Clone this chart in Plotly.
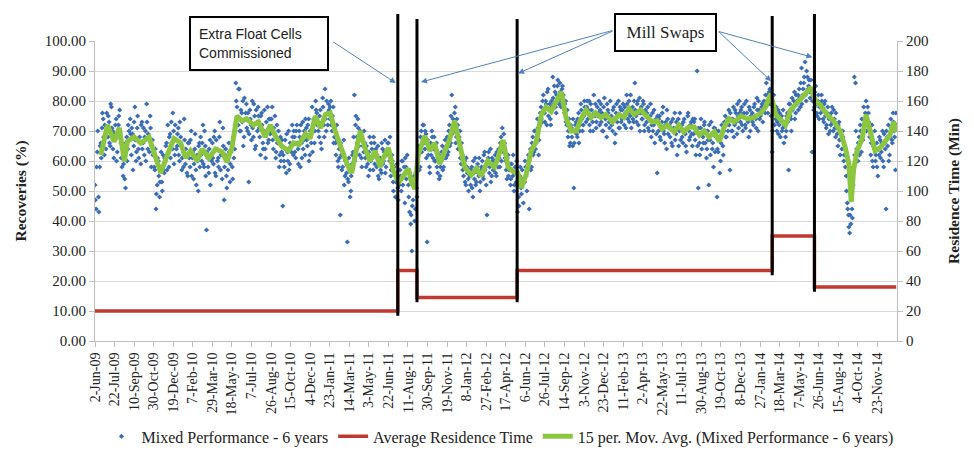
import pandas as pd
import plotly.graph_objects as go

# ---------------- data ----------------
start_date = "2009-06-02"

tick_labels = ["2-Jun-09", "22-Jul-09", "10-Sep-09", "30-Oct-09", "19-Dec-09", "7-Feb-10",
               "29-Mar-10", "18-May-10", "7-Jul-10", "26-Aug-10", "15-Oct-10", "4-Dec-10",
               "23-Jan-11", "14-Mar-11", "3-May-11", "22-Jun-11", "11-Aug-11", "30-Sep-11",
               "19-Nov-11", "8-Jan-12", "27-Feb-12", "17-Apr-12", "6-Jun-12", "26-Jul-12",
               "14-Sep-12", "3-Nov-12", "23-Dec-12", "11-Feb-13", "2-Apr-13", "22-May-13",
               "11-Jul-13", "30-Aug-13", "19-Oct-13", "8-Dec-13", "27-Jan-14", "18-Mar-14",
               "7-May-14", "26-Jun-14", "15-Aug-14", "4-Oct-14", "23-Nov-14"]

# Mixed performance recoveries (%), readings every 3 days from 2-Jun-09 (day 0, 3, 6, ...)
recovery_step_days = 3
recoveries_a = [
    52, 44, 63, 48, 58, 66, 71, 74, 62, 69,
    76, 68, 73, 65, 78, 70, 61, 67, 74, 63,
    72, 77, 66, 58, 55, 62, 51, 68, 64, 70,
    74, 62, 69, 65, 78, 60, 71, 64, 68, 59,
    73, 66, 62, 70, 79, 64, 68, 75, 58, 67,
    63, 57, 44, 52, 60, 48, 58, 53, 62, 56,
    60, 66, 72, 58, 69, 73, 64, 70, 62, 67,
    65, 71, 60, 68, 57, 63, 74, 59, 62, 55,
    66, 58, 70, 61, 54, 64, 57, 62, 50, 66,
    68, 60, 72, 58, 65, 37, 61, 56, 67, 62,
    66, 59, 70, 55, 64, 61, 68, 57, 63, 71,
    47, 62, 55, 60, 66, 53, 63, 58, 68, 64,
    86, 78, 72, 84, 70, 76, 80, 68, 74, 79,
    70, 53, 77, 72, 80, 68, 75, 65, 73, 78,
    71, 62, 76, 66, 70, 64, 73, 78, 67, 74,
    70, 78, 64, 69, 61, 72, 66, 58, 68, 63,
    45, 60, 67, 56, 63, 70, 59, 65, 72, 62,
    68, 61, 72, 64, 70, 58, 66, 73, 67, 62,
    71, 65, 74, 62, 69, 78, 72, 66, 80, 76,
    73, 68, 77, 64, 81, 72, 84, 70, 76, 79,
    74, 80, 70, 78, 68, 66, 72, 60, 64, 42,
    62, 58, 67, 55, 60, 33, 53, 57, 50, 59,
    63, 82, 72, 68, 74, 65, 70, 61, 67, 63,
    66, 58, 62, 55, 68, 60, 64, 57, 66, 62,
    58, 65, 54, 61, 56, 64, 60, 67, 58, 63,
    66, 60, 55, 62, 53, 58, 48, 56, 51, 54,
    57, 50, 60, 55, 46, 58, 62, 52, 43, 39,
    30, 47, 55, 44, 51, 60, 65, 58, 70, 66,
    72, 64, 69, 33, 62, 58, 66, 70, 61, 68,
    60, 66, 56, 62, 55, 60, 65, 58, 64, 61,
    68, 63, 72, 66, 82, 74, 70, 78, 68, 72,
    64, 70, 59, 62, 55, 60, 52, 58, 54, 57,
    52, 58, 48, 56, 61, 53, 59, 55, 50, 57,
    60, 54, 63, 58, 42, 61, 56, 64, 55, 60,
    57, 62, 55, 60, 64, 58, 68, 71, 63, 66,
    60, 54, 62, 57, 52, 59, 55, 50, 58, 53,
    43, 48, 55, 51, 57, 46, 53, 58, 50, 60,
    44, 64, 58, 68, 63, 70, 66, 74, 62, 72,
    78, 73, 82, 76, 80, 72, 84, 77, 74, 80,
    88, 79, 83, 76, 85, 81, 86, 78, 84, 82,
    76, 80, 72, 68, 74, 66, 71, 65, 51, 70,
    73, 68, 76, 70, 79, 74, 72, 80, 76, 78,
    74, 80, 70, 77, 73, 82, 75, 71, 78, 76,
    72, 79, 76, 70, 81, 74, 68, 77, 73, 80,
    75, 70, 78, 66, 76, 73, 80, 71, 77, 74,
    79, 72, 76, 82, 74, 80, 75, 71, 78, 73,
    86, 75, 79, 72, 81, 76, 74, 80, 70, 77,
    73, 78, 70, 75, 68, 76, 72, 66, 74, 56,
    70, 75, 67, 73, 78, 69, 72, 64, 74, 71,
    68, 73, 65, 71, 76, 69, 62, 74, 70, 67,
    72, 66, 74, 69, 63, 75, 70, 68, 73, 65,
    69, 74, 62, 90, 51, 66, 71, 64, 68, 72,
    66, 61, 70, 52, 67, 73, 64, 58, 71, 68,
    48, 63, 67, 60, 72, 65, 70, 75, 68, 74,
    77, 57, 74, 70, 78, 72, 76, 69, 75, 80,
    73, 78, 70, 76, 72, 80, 74, 68, 77, 75,
    76, 72, 79, 74, 81, 70, 77, 75, 78, 73,
    80, 76, 86, 82, 79, 84, 75, 63, 78, 72,
    74, 70, 77, 72, 68, 75, 71, 66, 73, 70,
    76, 57, 79, 74, 81, 78, 83, 76, 80, 82,
    84, 78, 91, 82, 86, 93, 80, 88, 85, 83,
    87, 63, 82, 78, 85, 76, 80, 74, 79, 82,
    77, 73, 80, 71, 76, 69, 75, 72, 78, 70,
    74, 68, 71, 65, 73, 62, 67, 70, 60, 64,
    55, 46, 42, 36, 39, 44, 52, 88, 86, 64,
    60, 68, 72, 63, 70, 78, 74, 80, 72, 76,
    68, 62, 72, 58, 64, 60, 66, 55, 62, 67,
    63, 70, 58, 66, 44, 68, 72, 62, 74, 67,
    76, 70, 57, 72,
]
# second set of readings, every 3 days starting one day later (day 1, 4, 7, ...)
recoveries_b = [
    47, 58, 70, 43, 65, 61, 76, 68, 72, 64,
    70, 75, 66, 79, 71, 64, 69, 72, 60, 68,
    75, 69, 61, 64, 59, 54, 66, 60, 72, 67,
    69, 71, 57, 73, 67, 63, 75, 61, 66, 72,
    64, 71, 68, 60, 73, 69, 63, 71, 65, 62,
    58, 64, 49, 61, 55, 53, 63, 50, 57, 61,
    65, 57, 63, 68, 61, 66, 76, 59, 72, 64,
    69, 62, 73, 65, 61, 58, 67, 64, 56, 66,
    61, 67, 55, 63, 59, 69, 52, 60, 65, 58,
    62, 66, 59, 70, 55, 63, 58, 64, 52, 60,
    61, 68, 56, 67, 60, 58, 73, 62, 54, 65,
    58, 64, 51, 57, 63, 59, 66, 54, 61, 72,
    80, 74, 84, 70, 77, 73, 65, 81, 76, 71,
    76, 69, 74, 67, 71, 79, 64, 77, 70, 75,
    68, 75, 72, 64, 77, 61, 70, 66, 74, 69,
    74, 67, 71, 75, 63, 66, 70, 62, 60, 67,
    62, 58, 64, 69, 60, 57, 66, 63, 68, 70,
    63, 70, 66, 59, 68, 72, 61, 64, 70, 74,
    67, 72, 60, 70, 66, 63, 74, 70, 77, 72,
    70, 75, 66, 72, 78, 68, 74, 80, 72, 77,
    78, 72, 75, 66, 71, 62, 67, 58, 61, 66,
    57, 63, 52, 60, 56, 54, 61, 48, 55, 62,
    68, 60, 75, 66, 71, 62, 68, 58, 65, 70,
    61, 65, 59, 63, 57, 66, 61, 68, 59, 64,
    62, 55, 60, 57, 66, 59, 63, 56, 62, 66,
    62, 68, 57, 60, 50, 56, 53, 59, 47, 52,
    55, 60, 52, 58, 61, 54, 57, 48, 56, 42,
    45, 52, 40, 56, 48, 62, 57, 68, 63, 72,
    66, 70, 61, 67, 64, 56, 62, 68, 64, 60,
    64, 58, 61, 54, 58, 63, 57, 61, 67, 64,
    62, 70, 65, 75, 69, 71, 76, 66, 74, 64,
    68, 61, 66, 57, 59, 53, 61, 56, 50, 55,
    57, 51, 60, 54, 52, 58, 56, 61, 53, 58,
    55, 62, 57, 52, 60, 63, 58, 53, 61, 57,
    60, 56, 63, 58, 61, 66, 60, 64, 69, 61,
    57, 61, 55, 59, 54, 57, 62, 52, 56, 60,
    52, 45, 58, 49, 54, 53, 60, 55, 57, 62,
    61, 57, 66, 62, 70, 64, 68, 71, 67, 76,
    74, 80, 77, 73, 79, 83, 75, 79, 72, 78,
    81, 85, 78, 82, 87, 79, 83, 80, 85, 78,
    79, 73, 77, 70, 65, 72, 68, 74, 66, 72,
    69, 74, 66, 72, 77, 70, 75, 78, 73, 80,
    77, 72, 79, 75, 70, 76, 79, 73, 75, 80,
    77, 73, 70, 78, 75, 72, 79, 76, 71, 74,
    72, 77, 74, 69, 79, 75, 71, 78, 73, 77,
    75, 78, 71, 79, 76, 73, 82, 77, 74, 80,
    77, 73, 80, 76, 70, 78, 74, 79, 72, 75,
    76, 71, 74, 79, 72, 70, 77, 73, 69, 75,
    74, 68, 71, 76, 70, 66, 73, 77, 69, 72,
    71, 66, 74, 70, 67, 73, 71, 65, 76, 72,
    68, 73, 70, 65, 71, 76, 67, 72, 69, 74,
    73, 67, 70, 65, 71, 62, 74, 69, 66, 73,
    70, 64, 67, 72, 62, 69, 66, 71, 63, 70,
    64, 70, 56, 66, 69, 62, 73, 68, 72, 70,
    72, 76, 70, 74, 68, 77, 73, 79, 71, 76,
    77, 72, 75, 79, 71, 76, 73, 78, 70, 74,
    73, 78, 75, 71, 77, 80, 74, 76, 79, 77,
    78, 82, 80, 76, 83, 79, 81, 70, 82, 76,
    78, 73, 69, 76, 74, 70, 77, 72, 68, 75,
    73, 79, 75, 70, 77, 80, 74, 82, 79, 77,
    81, 86, 79, 84, 88, 82, 90, 84, 87, 81,
    84, 80, 77, 83, 79, 75, 82, 78, 76, 80,
    74, 79, 75, 72, 78, 74, 70, 76, 73, 77,
    71, 76, 69, 72, 67, 70, 64, 68, 62, 58,
    50, 44, 38, 42, 47, 41, 58, 62, 70, 60,
    66, 62, 70, 74, 67, 72, 76, 70, 78, 73,
    72, 66, 60, 65, 70, 62, 58, 64, 68, 61,
    66, 60, 69, 64, 70, 65, 60, 68, 71, 66,
    73, 68, 76,
]

# 15 period moving average, read at the day offsets below
ma_days = [15, 32, 49, 62, 75, 83, 100, 117, 138, 155, 168, 185, 202, 219, 232, 244, 261, 274,
           291, 308, 325, 337, 350, 363, 376, 388, 405, 418, 435, 448, 460, 477, 494, 508, 521,
           538, 550, 563, 576, 589, 601, 614, 631, 644, 656, 669, 678, 690, 703, 716, 729, 737,
           750, 763, 776, 788, 801, 809, 818, 826, 843, 856, 868, 881, 894, 906, 919, 932, 945,
           962, 975, 987, 1004, 1021, 1030, 1043, 1056, 1069, 1081, 1090, 1103, 1115, 1128, 1141,
           1153, 1166, 1179, 1192, 1204, 1217, 1230, 1242, 1255, 1268, 1280, 1293, 1306, 1323,
           1340, 1352, 1365, 1378, 1395, 1407, 1424, 1437, 1450, 1463, 1480, 1492, 1505, 1518,
           1532, 1545, 1557, 1570, 1583, 1596, 1608, 1621, 1634, 1651, 1668, 1685, 1702, 1714,
           1727, 1740, 1753, 1765, 1778, 1791, 1803, 1816, 1829, 1842, 1854, 1871, 1888, 1905,
           1918, 1927, 1933, 1939, 1948, 1961, 1971, 1982, 1994, 2007, 2020, 2032, 2041, 2049]
ma_values = [62, 72, 66.5, 71, 60, 66.5, 68, 66, 68, 61, 56, 62, 67.5, 66, 61, 63.4, 60, 64,
             61, 64, 63, 59.7, 64.5, 75, 73.4, 74, 72, 73, 68, 72, 68.6, 65, 63.4, 66, 65.5,
             69, 67.5, 75, 71, 75.5, 76, 70, 63.4, 59, 56, 64.4, 70, 64.4, 60, 63.4, 58, 61,
             64.4, 56.5, 52.8, 55, 57.5, 52.8, 50.7, 62, 68.4, 63.4, 66, 59, 63.4, 67, 73.4, 66, 58,
             55.4, 57.5, 55, 60, 58, 61, 67, 58, 56.5, 56, 51, 56, 63.4, 66.5, 75.5,
             78, 76.5, 80, 83, 74.5, 70, 70, 74, 77, 74.5, 76, 74.5, 75.5, 73,
             75.5, 74.5, 77.5, 75.5, 77, 75.5, 73, 73.4, 70.7, 72, 69.7, 72, 69.7, 71.3,
             71.3, 68.6, 70, 68, 69.7, 66.5, 71.3, 74, 73, 75, 74, 74.5, 76, 78,
             82.4, 75.5, 73.4, 72, 77, 78.7, 80.8, 82.4, 84.5, 80, 78.7, 75.5, 73.4, 70,
             64.4, 59, 46.4, 57, 63.4, 67.5, 75.5, 69.7, 63.4, 64.4, 66.5, 68.6, 73, 69.7]

# Average residence time (min) steps
res_dates = ["2009-06-02", "2011-07-16", "2011-09-03", "2012-05-16", "2014-02-27", "2014-06-15", "2015-01-10"]
res_minutes = [20, 47, 29, 47, 70, 36, 36]

# Events (black vertical lines)
event_dates = ["2011-07-16", "2011-09-03", "2012-05-16", "2014-02-27", "2014-06-15"]

# ---------------- build ----------------
t0 = pd.Timestamp(start_date)
rec_x = ([t0 + pd.Timedelta(days=recovery_step_days * i) for i in range(len(recoveries_a))] +
         [t0 + pd.Timedelta(days=1 + recovery_step_days * i) for i in range(len(recoveries_b))])
rec_y = recoveries_a + recoveries_b
ma_dates = [t0 + pd.Timedelta(days=d) for d in ma_days]
tick_dates = [pd.to_datetime(s, format="%d-%b-%y") for s in tick_labels]

SERIF = "Liberation Serif"
fig = go.Figure()

fig.add_trace(go.Scatter(
    x=rec_x, y=rec_y, mode="markers", name="Mixed Performance - 6 years",
    marker=dict(symbol="diamond", size=4, color="#3A6DB5"), yaxis="y"))

fig.add_trace(go.Scatter(
    x=res_dates, y=res_minutes, mode="lines", name="Average Residence Time",
    line=dict(color="#C0392F", width=3.5, shape="hv"), yaxis="y2"))

fig.add_trace(go.Scatter(
    x=ma_dates, y=ma_values, mode="lines", name="15 per. Mov. Avg. (Mixed Performance - 6 years)",
    line=dict(color="#8CC63F", width=5), yaxis="y"))

# black vertical event lines (extend above plot)
tops = [1.09, 1.073, 1.073, 1.083, 1.09]
for i, d in enumerate(event_dates):
    lower = min(res_minutes[i], res_minutes[i + 1]) / 2.0 - 1.6
    fig.add_shape(type="line", xref="x", yref="paper", x0=d, x1=d,
                  y0=lower / 100.0, y1=tops[i], line=dict(color="black", width=3))

# text boxes
fig.add_annotation(xref="paper", yref="paper", x=0.205, y=0.992, xanchor="center",
                   yanchor="middle", showarrow=False,
                   text="Extra Float Cells<br>Commissioned", align="left",
                   width=120, height=35, borderpad=8, bordercolor="black", borderwidth=2,
                   bgcolor="white", font=dict(family="Liberation Sans", size=14, color="#222"))
fig.add_annotation(xref="paper", yref="paper", x=0.711, y=1.027, xanchor="center",
                   yanchor="middle", showarrow=False,
                   text="Mill Swaps", align="center",
                   width=93, height=29, borderpad=3, bordercolor="black", borderwidth=2,
                   bgcolor="white", font=dict(family=SERIF, size=17, color="#222"))

# blue arrows: (event index, head value, tail dx, tail dy, xshift)
arrows = [(0, 86, -64, -42, -2), (1, 86.3, 193, -52, 4), (2, 89.2, 96, -43, 1),
          (3, 86.6, -54, -51, -1), (4, 94.6, -95, -26, -2)]
for idx, yv, dx, dy, xs in arrows:
    fig.add_annotation(x=event_dates[idx], y=yv, xref="x", yref="y", ax=dx, ay=dy,
                       axref="pixel", ayref="pixel", text="", showarrow=True,
                       arrowhead=2, arrowsize=1.2, arrowwidth=1, arrowcolor="#4F81BD",
                       xshift=xs, standoff=0)

# page has an 8px body margin: figure is 8px smaller and margins shifted accordingly
fig.update_layout(
    width=966, height=458,
    margin=dict(l=84, r=77, t=33, b=111),
    paper_bgcolor="white", plot_bgcolor="white",
    font=dict(family=SERIF, size=13, color="#222"),
    showlegend=True,
    legend=dict(orientation="h", x=0.505, xanchor="center", y=-0.318, yanchor="middle",
                font=dict(family=SERIF, size=16, color="#222"), itemwidth=30,
                bgcolor="rgba(0,0,0,0)"),
    xaxis=dict(type="date", range=["2009-06-02", "2015-01-12"], tickmode="array",
               tickvals=tick_dates, ticktext=tick_labels, tickangle=-90,
               tickfont=dict(family=SERIF, size=14), ticks="outside", ticklen=5,
               tickcolor="#BFBFBF", showgrid=False, showline=True, linecolor="#BFBFBF",
               zeroline=False),
    yaxis=dict(range=[0, 100], dtick=10, tickformat=".2f", showgrid=True, gridcolor="#D9D9D9",
               showline=True, linecolor="#BFBFBF", ticks="outside", ticklen=5, tickcolor="#BFBFBF",
               zeroline=False, tickfont=dict(family=SERIF, size=15),
               title=dict(text="<b>Recoveries (%)</b>", font=dict(family=SERIF, size=15.5),
                          standoff=14)),
    yaxis2=dict(range=[0, 200], dtick=20, overlaying="y", side="right", showgrid=False,
                showline=True, linecolor="#BFBFBF", ticks="outside", ticklen=5,
                tickcolor="#BFBFBF", zeroline=False, tickfont=dict(family=SERIF, size=15),
                title=dict(text="<b>Residence Time (Min)</b>", font=dict(family=SERIF, size=15.5),
                           standoff=20)),
)

fig.write_html("out.html")
